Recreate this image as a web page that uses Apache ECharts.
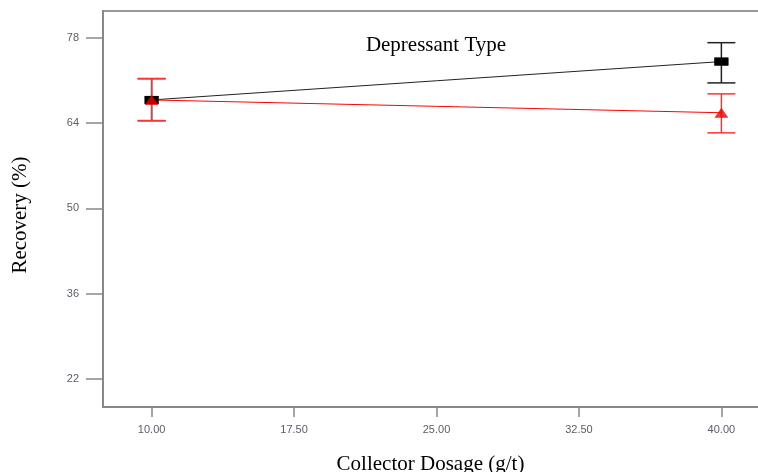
<!DOCTYPE html>
<html><head><meta charset="utf-8">
<script src="https://cdn.jsdelivr.net/npm/echarts@6/dist/echarts.min.js"></script>
<style>html,body{margin:0;padding:0;background:#fff}#c{width:758px;height:472px}</style>
</head><body><div id="c"></div>
<script>
const xCategories = [10, 40];
const xTicks = [10, 17.5, 25, 32.5, 40];
const yTicks = [22, 36, 50, 64, 78];
const blackMean = [67.8, 74.1];
const blackLow = [64.4, 70.6];
const blackHigh = [71.3, 77.2];
const redMean = [67.8, 65.7];
const redLow = [64.4, 62.4];
const redHigh = [71.3, 68.8];

const chart = echarts.init(document.getElementById('c'));
function errSeries(low, high, color, z) {
  return {
    type: 'custom', z: z,
    data: xCategories.map((x, i) => [x, low[i], high[i]]),
    renderItem: function (params, api) {
      const x = api.value(0);
      const lo = api.coord([x, api.value(1)]);
      const hi = api.coord([x, api.value(2)]);
      const hw = 14;
      const st = { stroke: color, lineWidth: 1.5 };
      return { type: 'group', children: [
        { type: 'line', shape: { x1: lo[0], y1: lo[1], x2: hi[0], y2: hi[1] }, style: st },
        { type: 'line', shape: { x1: lo[0]-hw, y1: lo[1], x2: lo[0]+hw, y2: lo[1] }, style: st },
        { type: 'line', shape: { x1: hi[0]-hw, y1: hi[1], x2: hi[0]+hw, y2: hi[1] }, style: st }
      ]};
    }
  };
}
const serif = '"Liberation Serif", "DejaVu Serif", serif';
const tickFont = { fontFamily: '"Liberation Sans", Arial, sans-serif', fontSize: 11, color: '#5c5c68' };
chart.setOption({
  animation: false,
  title: { text: 'Depressant Type', left: 431, top: 30, textAlign: 'center',
    textStyle: { fontFamily: serif, fontWeight: 'normal', fontSize: 21, color: '#000' } },
  grid: { left: 103, top: 11, width: 667, bottom: 65, show: true, borderColor: '#999', borderWidth: 2,
    containLabel: false, outerBoundsMode: 'none' },
  xAxis: {
    type: 'value', min: 7.44, max: 42.56,
    name: 'Collector Dosage (g/t)', nameLocation: 'middle', nameGap: 47,
    nameTextStyle: { fontFamily: serif, fontSize: 21, color: '#000', padding: [0, 12, 0, 0] },
    axisLine: { show: true, lineStyle: { color: '#888', width: 2 } },
    axisTick: { show: true, length: 10, customValues: xTicks, lineStyle: { color: '#888', width: 1.5 } },
    axisLabel: Object.assign({ customValues: xTicks, formatter: v => v.toFixed(2), margin: 17 }, tickFont),
    splitLine: { show: false }
  },
  yAxis: {
    type: 'value', min: 17.4, max: 82.4,
    name: 'Recovery (%)', nameLocation: 'middle', nameGap: 72, nameRotate: 90,
    nameTextStyle: { fontFamily: serif, fontSize: 21, color: '#000', padding: [0, 12, 0, 0] },
    axisLine: { show: true, lineStyle: { color: '#888', width: 2 } },
    axisTick: { show: true, length: 17, customValues: yTicks, lineStyle: { color: '#888', width: 1.5 } },
    axisLabel: Object.assign({ customValues: yTicks, margin: 24 }, tickFont),
    splitLine: { show: false }
  },
  series: [
    { type: 'line', z: 2, data: xCategories.map((x, i) => [x, blackMean[i]]), symbol: 'rect', symbolSize: [14, 8],
      itemStyle: { color: '#000' }, lineStyle: { color: '#222', width: 1 } },
    errSeries(blackLow, blackHigh, '#222', 3),
    { type: 'line', z: 4, data: xCategories.map((x, i) => [x, redMean[i]]), symbol: 'none',
      lineStyle: { color: '#f00', width: 1 } },
    errSeries(redLow, redHigh, '#f33', 5),
    { type: 'scatter', z: 6, data: xCategories.map((x, i) => [x, blackMean[i]]), symbol: 'rect', symbolSize: [14, 8],
      itemStyle: { color: '#000' } },
    { type: 'scatter', z: 7, data: xCategories.map((x, i) => [x, redMean[i]]), symbol: 'triangle', symbolSize: [14, 10],
      itemStyle: { color: '#e00' } }
  ]
});
</script></body></html>
